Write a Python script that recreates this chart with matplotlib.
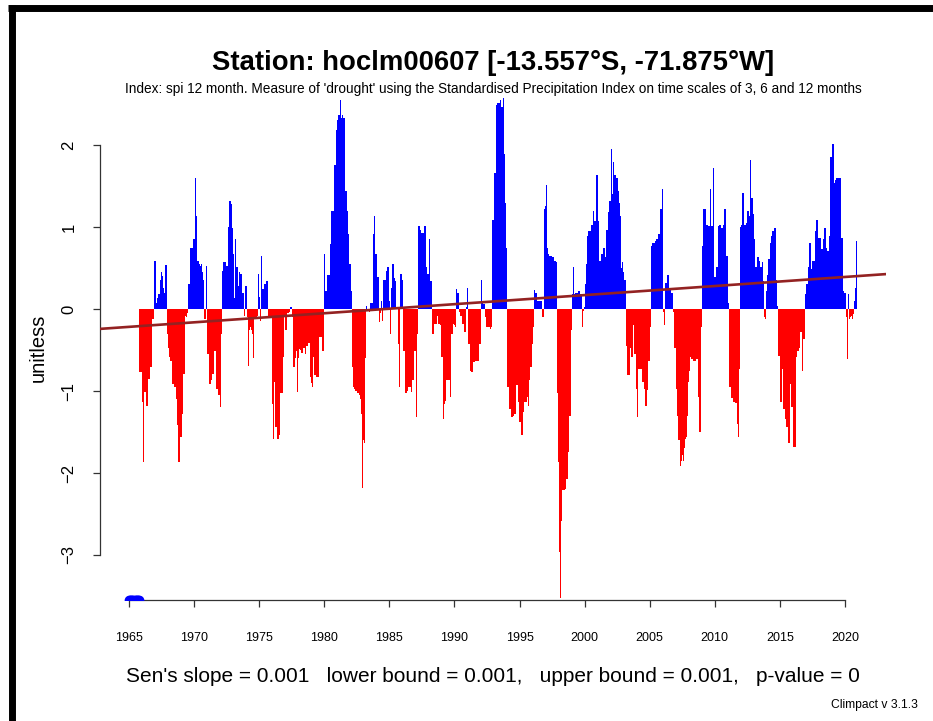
import numpy as np
import matplotlib
matplotlib.use('Agg')
import matplotlib.pyplot as plt
from matplotlib.lines import Line2D

plt.rcParams['font.family'] = ['Liberation Sans', 'DejaVu Sans']

nan = np.nan
# monthly SPI-12 values (Jan..Dec), one row per year
spi_1965_1969 = [
    nan, nan, nan, nan, nan, nan, nan, nan, nan, nan, -0.77, -0.77,
    -1.14, -1.87, -1.01, -1.01, -1.18, -1.18, -0.85, -0.85, -0.71, -0.71, -0.12, 0.59,
    0.59, 0.08, 0.14, 0.18, 0.18, 0.35, 0.45, 0.40, 0.26, 0.20, 0.54, -0.30,
    -0.47, -0.59, -0.63, -0.63, -0.91, -0.91, -0.95, -0.95, -1.10, -1.42, -1.87, -1.56,
    -1.56, -1.28, -0.79, -0.79, -0.08, -0.10, -0.05, 0.30, 0.30, 0.75, 0.75, 0.85,
]
spi_1970s = [
    0.85, 1.60, 1.14, 0.59, 0.59, 0.55, 0.52, 0.55, 0.45, 0.35, -0.12, 0.53,
    -0.55, -0.55, -0.91, -0.91, -0.87, -0.79, -0.79, -0.51, -0.51, -0.97, -1.05, -1.05,
    -1.20, -0.30, 0.47, 0.57, 0.57, 0.57, 0.53, 0.53, 1.00, 1.32, 1.28, 0.99,
    0.67, 0.14, 0.85, 0.51, 0.51, 0.28, 0.45, 0.43, 0.43, 0.20, -0.08, 0.28,
    0.28, -0.10, -0.70, -0.25, -0.22, -0.25, -0.30, -0.60, -0.12, -0.10, -0.08, 0.43,
    0.15, -0.15, 0.65, 0.24, 0.24, 0.30, 0.30, 0.34, 0.34, -0.10, -0.10, -0.10,
    -1.16, -1.58, -0.89, -1.44, -1.44, -1.58, -1.58, -1.54, -1.03, -1.03, -0.59, -0.10,
    -0.26, -0.26, -0.05, -0.05, -0.03, 0.02, 0.02, -0.10, -0.71, -0.60, -0.51, -1.01,
    -0.60, -0.49, -0.50, -0.53, -0.53, -0.47, -0.47, -0.55, -0.45, -0.41, -0.41, -0.83,
    -0.90, -0.95, -0.59, -0.81, -0.81, -0.83, -0.83, -0.83, -0.34, -0.34, -0.51, -0.51,
]
spi_1980s = [
    0.67, 0.22, 0.22, 0.41, 0.41, 0.41, 0.79, 1.20, 1.20, 1.76, 1.76, 2.19,
    2.31, 2.37, 2.37, 2.55, 2.33, 2.37, 2.33, 2.33, 1.44, 1.20, 0.91, 0.55,
    0.55, 0.22, -0.71, -0.95, -0.97, -1.00, -1.00, -1.03, -1.05, -1.10, -1.28, -2.18,
    -1.60, -1.64, -0.60, 0.04, -0.02, -0.02, -0.03, 0.08, 0.08, 0.91, 1.14, 0.67,
    0.67, 0.39, 0.39, -0.16, -0.05, 0.10, -0.14, 0.36, 0.36, 0.47, 0.51, 0.51,
    0.10, -0.30, 0.26, 0.55, 0.55, 0.38, 0.34, 0.02, -0.43, -0.95, 0.43, 0.43,
    0.36, -0.51, -0.51, -1.03, -1.03, -1.00, -0.95, -0.95, -1.01, -0.87, -0.87, -0.51,
    -0.51, -1.32, -0.30, 1.01, 1.01, 0.97, 0.93, 0.93, 1.01, 1.01, 0.51, 0.43,
    0.43, 0.85, 0.34, 0.34, -0.30, -0.30, -0.18, -0.18, -0.08, -0.18, -0.18, -0.20,
    -0.59, -0.59, -1.34, -1.16, -1.12, -0.87, -0.87, -0.87, -1.07, -0.30, -0.30, -0.18,
]
spi_1990s = [
    -0.20, -0.22, 0.24, 0.20, 0.20, -0.04, -0.08, -0.18, -0.18, -0.28, -0.28, 0.02,
    0.26, -0.43, -0.43, -0.75, -0.77, -0.77, -0.65, -0.63, -0.63, -0.63, -0.63, -0.43,
    -0.43, 0.36, 0.08, 0.06, 0.06, -0.10, -0.22, -0.22, -0.22, -0.24, -0.22, 1.09,
    1.09, 1.66, 1.66, 2.49, 2.51, 2.51, 2.55, 2.47, 2.47, 2.58, 1.89, 1.30,
    0.75, -0.95, -0.95, -1.22, -1.22, -1.32, -1.30, -1.28, -1.28, -0.93, -0.93, -1.14,
    -1.38, -1.38, -1.54, -1.54, -1.26, -1.14, -1.14, -1.07, -1.18, -0.87, -0.71, -0.71,
    -0.43, -0.22, 0.23, 0.20, 0.20, 0.10, 0.10, 0.10, 0.10, -0.10, -0.10, 1.22,
    1.26, 1.52, 0.75, 0.67, 0.65, 0.65, 0.63, 0.63, 0.59, 0.59, 0.57, -1.03,
    -1.87, -2.96, -3.53, -2.58, -2.21, -2.21, -2.19, -2.07, -2.07, -1.74, -1.30, -1.30,
    -0.26, 0.18, 0.51, 0.18, 0.20, 0.20, 0.22, 0.22, 0.18, 0.18, -0.22, -0.02,
]
spi_2000s = [
    0.02, 0.30, 0.55, 0.89, 0.95, 0.95, 1.03, 1.03, 1.20, 1.07, 1.07, 1.64,
    1.64, 1.07, 0.59, 0.59, 0.67, 0.75, 0.75, 0.63, 0.97, 0.97, 1.18, 1.32,
    1.32, 1.95, 1.40, 1.80, 1.64, 1.60, 1.60, 1.44, 1.30, 1.14, 0.50, 0.57,
    0.45, 0.36, 0.36, -0.45, -0.81, -0.81, -0.47, -0.59, -0.59, -0.20, -0.55, -0.55,
    -0.97, -1.32, -0.73, -0.73, -0.73, -0.89, -0.89, -0.97, -1.18, -1.18, -0.99, -0.63,
    -0.63, -0.22, 0.77, 0.81, 0.81, 0.83, 0.85, 0.85, 0.91, 0.91, 1.22, 1.22,
    1.46, -0.03, -0.20, 0.32, 0.41, 0.41, 0.26, 0.26, 0.20, 0.20, -0.03, -0.47,
    -0.47, -0.97, -1.30, -1.60, -1.91, -1.85, -1.78, -1.85, -1.70, -1.58, -1.56, -1.30,
    -0.89, -0.75, -0.59, -0.61, -0.63, -0.63, -0.63, -0.61, -0.61, -1.07, -1.50, -1.50,
    -0.22, 0.77, 1.22, 1.22, 1.03, 1.03, 1.01, 1.01, 1.46, 1.01, 1.01, 1.72,
]
spi_2010s = [
    0.39, 0.39, 0.51, 1.01, 1.03, 1.03, 0.99, 0.99, 1.03, 1.22, 1.22, 0.65,
    0.65, 0.08, -0.95, -1.09, -1.09, -1.13, -1.13, -1.15, -1.15, -1.40, -1.56, -0.73,
    1.00, 1.03, 1.42, 1.03, 1.03, 1.05, 1.20, 1.20, 1.14, 1.82, 1.36, 1.36,
    1.16, 0.85, 0.51, 0.63, 0.63, 0.59, 0.51, 0.51, 0.57, 0.34, -0.10, -0.12,
    0.22, 0.41, 0.61, 0.81, 0.89, 0.95, 0.95, 0.99, 0.99, 0.36, 0.04, -0.57,
    -0.57, -1.14, -0.73, -1.22, -1.22, -1.34, -1.44, -1.44, -1.64, -1.64, -0.91, -1.20,
    -1.20, -1.68, -1.68, -0.59, -0.51, -0.51, -0.47, -0.28, -0.28, -0.75, -0.36, -0.36,
    0.18, 0.30, 0.51, 0.81, 0.81, 0.49, 0.59, 0.59, 0.59, 0.95, 1.09, 1.09,
    0.87, 0.87, 0.73, 0.73, 0.85, 0.99, 0.99, 0.75, 0.71, 0.71, 0.89, 1.85,
    1.85, 2.01, 1.54, 1.58, 1.60, 1.60, 1.60, 1.60, 1.60, 0.87, 0.87, 0.22,
]
spi_2020 = [0.20, -0.10, -0.61, 0.18, -0.12, -0.10, -0.08, -0.12, -0.06, 0.10, 0.26, 0.83]

start_year = 1965
year_ticks = list(range(1965, 2021, 5))
y_ticks = [-3, -2, -1, 0, 1, 2]
trend_at_1965 = -0.217   # Sen's slope line
trend_per_year = 0.01107

spi = np.array(spi_1965_1969 + spi_1970s + spi_1980s + spi_1990s + spi_2000s + spi_2010s + spi_2020)
t = start_year + np.arange(len(spi)) / 12.0

fig = plt.figure(figsize=(9.33, 7.21), dpi=100)
ax = fig.add_axes([100/933, 1-600/721, 786/933, 504/721])

pos = spi >= 0
neg = spi < 0
ax.bar(t[pos], spi[pos], width=1/12, color='#0000ff', linewidth=0)
ax.bar(t[neg], spi[neg], width=1/12, color='#ff0000', linewidth=0)

# R-style 4% padding on the time axis
span = t[-1] - t[0]
ax.set_xlim(t[0] - 0.04*span, t[-1] + 0.04*span)
ax.set_ylim(-3.55, 2.6)

ax.axline((start_year, trend_at_1965), slope=trend_per_year, color='#932222', lw=1.9, zorder=5)

miss = np.isnan(spi)
ax.plot(t[miss], np.full(miss.sum(), -3.55), 'o', color='#0000ff', ms=6, zorder=4)

for s in ['top', 'right']:
    ax.spines[s].set_visible(False)
ax.spines['left'].set_bounds(-3, 2)
ax.spines['bottom'].set_bounds(1965, 2020)
for s in ['left', 'bottom']:
    ax.spines[s].set_color('#333333')
    ax.spines[s].set_linewidth(0.9)

ax.set_xticks(year_ticks)
ax.set_yticks(y_ticks)
ax.tick_params(axis='x', length=5, width=0.9, color='#333333', labelsize=9, pad=18)
ax.tick_params(axis='y', length=5, width=0.9, color='#333333', labelsize=12, pad=12)
for lab in ax.get_yticklabels():
    lab.set_rotation(90)
    lab.set_va('center')
ax.set_ylabel('unitless', fontsize=14.5, labelpad=10)

cx = (100 + 886) / 2 / 933
fig.text(cx, 1-63/721, 'Station: hoclm00607 [-13.557°S, -71.875°W]', ha='center', va='center',
         fontsize=19.8, fontweight='bold')
fig.text(cx, 1-89/721, "Index: spi 12 month. Measure of 'drought' using the Standardised Precipitation Index on time scales of 3, 6 and 12 months",
         ha='center', va='center', fontsize=9.8)
fig.text(cx, 1-676/721, "Sen's slope = 0.001   lower bound = 0.001,   upper bound = 0.001,   p-value = 0",
         ha='center', va='center', fontsize=15)
fig.text(918/933, 1-705/721, 'Climpact v 3.1.3', ha='right', va='center', fontsize=8.7)

# black frame of the screenshot
fig.add_artist(Line2D([11.5/933, 11.5/933], [0, 1-5/721], transform=fig.transFigure,
                      color='black', lw=5, solid_capstyle='butt'))
fig.add_artist(Line2D([8/933, 1], [1-8/721, 1-8/721], transform=fig.transFigure,
                      color='black', lw=5, solid_capstyle='butt'))

fig.savefig('out.png', dpi=100)
